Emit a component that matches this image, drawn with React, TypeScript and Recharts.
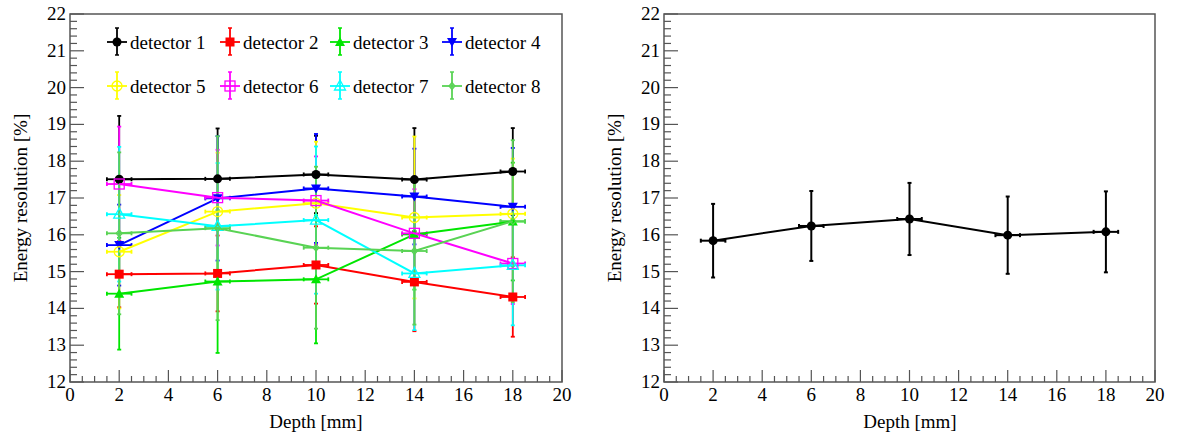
import { ScatterChart, Scatter, XAxis, YAxis, ErrorBar, ReferenceArea } from "recharts";

// depth positions [mm] and their half-width
const depths = [2, 6, 10, 14, 18];
const depthErr = [0.5, 0.5, 0.5, 0.5, 0.5];

// energy resolution [%] per detector
const detector1 = [17.51, 17.52, 17.64, 17.5, 17.72];
const detector1Err = [1.72, 1.37, 1.05, 1.4, 1.18];
const detector2 = [14.93, 14.95, 15.18, 14.72, 14.31];
const detector2Err = [0.9, 1.03, 1.05, 1.34, 1.08];
const detector3 = [14.4, 14.73, 14.79, 16.01, 16.36];
const detector3Err = [1.52, 1.94, 1.74, 1.5, 1.6];
const detector4 = [15.72, 16.99, 17.26, 17.04, 16.76];
const detector4Err = [1.1, 1.69, 1.48, 1.3, 1.6];
const detector5 = [15.54, 16.63, 16.86, 16.47, 16.57];
const detector5Err = [1.54, 1.6, 1.67, 2.2, 1.5];
const detector6 = [17.38, 17.01, 16.93, 16.04, 15.22];
const detector6Err = [1.56, 1.3, 1.2, 1.2, 1.1];
const detector7 = [16.56, 16.23, 16.4, 14.95, 15.17];
const detector7Err = [1.83, 1.72, 2.0, 1.54, 1.63];
const detector8 = [16.04, 16.18, 15.65, 15.56, 16.37];
const detector8Err = [2.2, 2.5, 2.2, 2.0, 2.2];

// combined result (right panel)
const average = [15.84, 16.24, 16.43, 15.99, 16.08];
const averageErr = [1.0, 0.95, 0.98, 1.05, 1.1];

const detectorNames = ["detector 1", "detector 2", "detector 3", "detector 4", "detector 5", "detector 6", "detector 7", "detector 8"];

const xMajor = [0, 2, 4, 6, 8, 10, 12, 14, 16, 18, 20];
const yMajor = [12, 13, 14, 15, 16, 17, 18, 19, 20, 21, 22];

const xTicks: number[] = [];
for (let i = 0; i <= 40; i++) xTicks.push(i / 2);
const yTicks: number[] = [];
for (let i = 0; i <= 50; i++) yTicks.push(Math.round((12 + i * 0.2) * 10) / 10);

const FONT = '"Liberation Serif", "DejaVu Serif", serif';
const FRAME = "#555";

const toPoints = (vals: number[], errs: number[]) =>
  depths.map((d, i) => ({ x: d, y: vals[i], ex: depthErr[i], ey: errs[i] }));

const series = [
  { vals: detector1, errs: detector1Err, color: "#000000", kind: "circle" },
  { vals: detector2, errs: detector2Err, color: "#ff0000", kind: "square" },
  { vals: detector3, errs: detector3Err, color: "#00e600", kind: "triUp" },
  { vals: detector4, errs: detector4Err, color: "#0000ff", kind: "triDown" },
  { vals: detector5, errs: detector5Err, color: "#ffff00", kind: "openCircle" },
  { vals: detector6, errs: detector6Err, color: "#ff00ff", kind: "openSquare" },
  { vals: detector7, errs: detector7Err, color: "#00ffff", kind: "openTri" },
  { vals: detector8, errs: detector8Err, color: "#59d354", kind: "openDiamond" },
];

function Marker({ cx, cy, kind, color }: { cx: number; cy: number; kind: string; color: string }) {
  if (cx == null || cy == null) return null;
  switch (kind) {
    case "circle":
      return <circle cx={cx} cy={cy} r={4.5} fill={color} />;
    case "square":
      return <rect x={cx - 4.5} y={cy - 4.5} width={9} height={9} fill={color} />;
    case "triUp":
      return <polygon points={`${cx},${cy - 5} ${cx - 5},${cy + 4} ${cx + 5},${cy + 4}`} fill={color} />;
    case "triDown":
      return <polygon points={`${cx},${cy + 5} ${cx - 5},${cy - 4} ${cx + 5},${cy - 4}`} fill={color} />;
    case "openCircle":
      return <circle cx={cx} cy={cy} r={5} fill="none" stroke={color} strokeWidth={1.3} />;
    case "openSquare":
      return <rect x={cx - 5} y={cy - 5} width={10} height={10} fill="none" stroke={color} strokeWidth={1.3} />;
    case "openTri":
      return <polygon points={`${cx},${cy - 6} ${cx - 5.5},${cy + 4} ${cx + 5.5},${cy + 4}`} fill="none" stroke={color} strokeWidth={1.3} />;
    case "openDiamond":
      return <polygon points={`${cx},${cy - 3.5} ${cx - 3},${cy} ${cx},${cy + 3.5} ${cx + 3},${cy}`} fill="none" stroke={color} strokeWidth={1.2} />;
    default:
      return null;
  }
}

const isMajor = (v: number, majors: number[]) => majors.some((m) => Math.abs(m - v) < 1e-6);

function XTick(props: any) {
  const { x, y, payload } = props;
  const major = isMajor(payload.value, xMajor);
  return (
    <g>
      <line x1={x} x2={x} y1={y} y2={y - (major ? 12 : 6)} stroke={FRAME} strokeWidth={1.2} />
      {major && (
        <text x={x} y={y + 19} textAnchor="middle" fontSize={19} fontFamily={FONT} fill="#000">
          {payload.value}
        </text>
      )}
    </g>
  );
}

function YTick(props: any) {
  const { x, y, payload } = props;
  const major = isMajor(payload.value, yMajor);
  return (
    <g>
      <line x1={x} x2={x + (major ? 14 : 7)} y1={y} y2={y} stroke={FRAME} strokeWidth={1.2} />
      {major && (
        <text x={x - 4} y={y + 6} textAnchor="end" fontSize={19} fontFamily={FONT} fill="#000">
          {payload.value}
        </text>
      )}
    </g>
  );
}

function Axes() {
  return null;
}

function Panel({ children, width, rightMargin, yWidth }: any) {
  return (
    <ScatterChart width={width} height={441} margin={{ top: 14, right: rightMargin, bottom: 0, left: 0 }}>
      <XAxis
        type="number"
        dataKey="x"
        domain={[0, 20]}
        ticks={xTicks}
        interval={0}
        tickSize={0}
        tickMargin={0}
        axisLine={false}
        tick={<XTick />}
        height={59}
        allowDataOverflow
      />
      <YAxis
        type="number"
        dataKey="y"
        domain={[12, 22]}
        ticks={yTicks}
        interval={0}
        tickSize={0}
        tickMargin={0}
        axisLine={false}
        tick={<YTick />}
        width={yWidth}
        allowDataOverflow
      />
      <ReferenceArea x1={0} x2={20} y1={12} y2={22} fill="none" fillOpacity={0} stroke={FRAME} strokeWidth={1.5} />
      {children}
    </ScatterChart>
  );
}

function LegendSymbol({ cx, cy, kind, color }: any) {
  return (
    <g>
      <line x1={cx} x2={cx} y1={cy - 14} y2={cy + 13} stroke={color} strokeWidth={1.8} />
      <line x1={cx - 2} x2={cx + 2} y1={cy - 14} y2={cy - 14} stroke={color} strokeWidth={1.5} />
      <line x1={cx - 2} x2={cx + 2} y1={cy + 13} y2={cy + 13} stroke={color} strokeWidth={1.5} />
      <line x1={cx - 10} x2={cx + 10} y1={cy} y2={cy} stroke={color} strokeWidth={1.8} />
      <Marker cx={cx} cy={cy} kind={kind} color={color} />
    </g>
  );
}

const legendCols = [117, 230, 340, 452];
const legendRows = [42, 86];

export default function App() {
  return (
    <div style={{ position: "absolute", left: 0, top: 0, width: 1178, height: 441, background: "#fff" }}>
      <div style={{ position: "absolute", left: 0, top: 0 }}>
        <Panel width={600} rightMargin={38} yWidth={70}>
          {series.map((s, i) => (
            <Scatter
              key={i}
              data={toPoints(s.vals, s.errs)}
              fill={s.color}
              line={{ stroke: s.color, strokeWidth: 2 }}
              lineType="joint"
              shape={(p: any) => <Marker cx={p.cx} cy={p.cy} kind={s.kind} color={s.color} />}
              isAnimationActive={false}
            >
              <ErrorBar dataKey="ey" direction="y" width={2} stroke={s.color} strokeWidth={1.8} isAnimationActive={false} />
              <ErrorBar dataKey="ex" direction="x" width={2} stroke={s.color} strokeWidth={1.8} isAnimationActive={false} />
            </Scatter>
          ))}
        </Panel>
      </div>
      <div style={{ position: "absolute", left: 590, top: 0 }}>
        <Panel width={588} rightMargin={23} yWidth={74}>
          <Scatter
            data={toPoints(average, averageErr)}
            fill="#000"
            line={{ stroke: "#000", strokeWidth: 2 }}
            lineType="joint"
            shape={(p: any) => <Marker cx={p.cx} cy={p.cy} kind="circle" color="#000" />}
            isAnimationActive={false}
          >
            <ErrorBar dataKey="ey" direction="y" width={2} stroke="#000" strokeWidth={2} isAnimationActive={false} />
            <ErrorBar dataKey="ex" direction="x" width={2} stroke="#000" strokeWidth={2} isAnimationActive={false} />
          </Scatter>
        </Panel>
      </div>
      <svg width={1178} height={441} style={{ position: "absolute", left: 0, top: 0, pointerEvents: "none" }}>
        {detectorNames.map((name, i) => {
          const cx = legendCols[i % 4];
          const cy = legendRows[Math.floor(i / 4)];
          const s = series[i];
          return (
            <g key={name}>
              <LegendSymbol cx={cx} cy={cy} kind={s.kind} color={s.color} />
              <text x={cx + 13} y={cy + 6.5} fontSize={19} fontFamily={FONT} fill="#000">
                {name}
              </text>
            </g>
          );
        })}
        <text x={316} y={428} textAnchor="middle" fontSize={19} fontFamily={FONT} fill="#000">
          Depth [mm]
        </text>
        <text x={910} y={428} textAnchor="middle" fontSize={19} fontFamily={FONT} fill="#000">
          Depth [mm]
        </text>
        <text x={27} y={198} textAnchor="middle" fontSize={19} fontFamily={FONT} fill="#000" transform="rotate(-90, 27, 198)">
          Energy resolution [%]
        </text>
        <text x={621} y={198} textAnchor="middle" fontSize={19} fontFamily={FONT} fill="#000" transform="rotate(-90, 621, 198)">
          Energy resolution [%]
        </text>
      </svg>
    </div>
  );
}
